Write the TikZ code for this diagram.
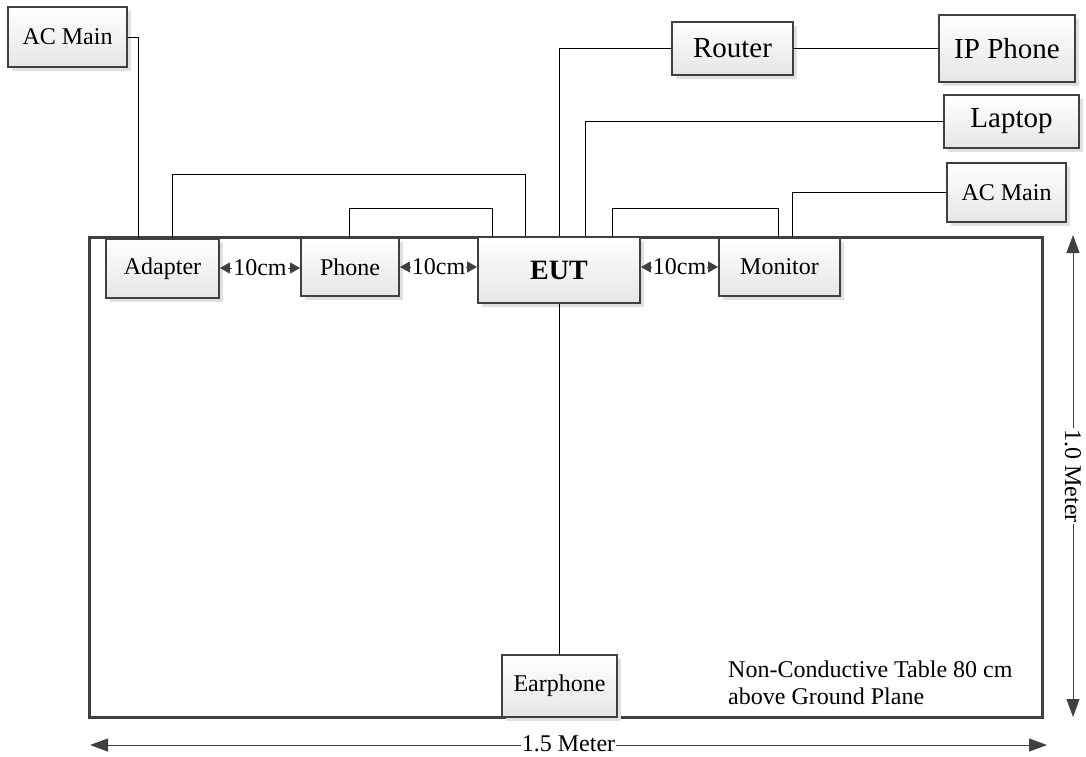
\documentclass[tikz,border=0pt]{standalone}
\usepackage{fontspec}
\setmainfont{Liberation Serif}
\usetikzlibrary{shadows,arrows.meta}
\definecolor{edge}{HTML}{404040}
\tikzset{
  dev/.style={draw=edge, line width=1.8pt, top color=white, bottom color=black!10,
    drop shadow={shadow xshift=4pt, shadow yshift=-4pt, fill=black!12, opacity=1},
    inner sep=0pt, font=\fontsize{24}{26}\selectfont},
  bigdev/.style={dev, font=\fontsize{29}{32}\selectfont},
  wire/.style={draw=black, line width=0.9pt},
  gap/.style={draw=edge, line width=0.9pt, {Triangle[length=10pt,width=11pt]}-{Triangle[length=10pt,width=11pt]}},
  dim/.style={draw=edge, line width=1pt, {Triangle[length=18pt,width=13pt]}-{Triangle[length=18pt,width=13pt]}},
  lbl/.style={fill=white, inner sep=1pt, font=\fontsize{24}{26}\selectfont}
}
\begin{document}
\begin{tikzpicture}[x=1pt,y=1pt]
\useasboundingbox (0,0) rectangle (1086,-756);
% table
\draw[draw=edge, line width=3pt] (89,-237) rectangle (1042,-717);
% devices
\node[dev, minimum width=119, minimum height=60] (acL) at (67.5,-37) {AC Main};
\node[dev, minimum width=113, minimum height=59] (adapter) at (162.5,-268.5) {Adapter};
\node[dev, minimum width=98, minimum height=58] (phone) at (350,-267) {Phone};
\node[dev, minimum width=162, minimum height=66, font=\fontsize{28}{30}\selectfont\bfseries] (eut) at (559,-270) {EUT};
\node[dev, minimum width=121, minimum height=58] (monitor) at (779.5,-267) {Monitor};
\node[bigdev, minimum width=121, minimum height=53] (router) at (732.5,-48.5) {Router};
\node[bigdev, minimum width=136, minimum height=67] (ipphone) at (1007,-48.5) {IP Phone};
\node[bigdev, minimum width=135, minimum height=53] (laptop) at (1011.5,-121.5) {Laptop};
\node[dev, minimum width=119, minimum height=59] (acR) at (1006.5,-192.5) {AC Main};
\node[dev, minimum width=115, minimum height=62] (earphone) at (559.5,-686) {Earphone};
% wires
\draw[wire] (acL.east) -| ([xshift=33]adapter.north west);
\draw[wire] ([xshift=67]adapter.north west) -- ++(0,64) -| ([xshift=48]eut.north west);
\draw[wire] ([xshift=-1]phone.north) -- ++(0,29) -| ([xshift=15]eut.north west);
\draw[wire] (router.west) -| (eut.north);
\draw[wire] (router.east) -- (ipphone.west);
\draw[wire] (laptop.west) -| ([xshift=26]eut.north);
\draw[wire] ([xshift=-28]eut.north east) -- ++(0,28) -| ([xshift=-1.5]monitor.north);
\draw[wire] (acR.west) -| ([xshift=12.5]monitor.north);
\draw[wire] (eut.south) -- (eut.south |- earphone.north);
% 10 cm gaps
\draw[gap] ([yshift=0.5]adapter.east) -- ([yshift=0.5]adapter.east -| phone.west) node[midway, lbl, inner xsep=1pt] (g1) {10cm};
\draw[gap] (phone.east) -- (phone.east -| eut.west) node[midway, lbl, inner xsep=1pt] (g2) {10cm};
\draw[gap] ([yshift=3]eut.east) -- ([yshift=3]eut.east -| monitor.west) node[midway, lbl, inner xsep=1pt] (g3) {10cm};
% note
\node[anchor=west, align=left, inner sep=0pt, font=\fontsize{24}{27.5}\selectfont] (note) at (728,-683) {Non-Conductive Table 80 cm\\above Ground Plane};
% dimensions
\coordinate (hL) at (90,-745);
\coordinate (hR) at (1047,-745);
\draw[dim] (hL) -- (hR) node[midway, lbl, inner ysep=0pt, yshift=1.5pt] (wlbl) {1.5 Meter};
\coordinate (vT) at (1073,-235);
\coordinate (vB) at (1073,-717);
\draw[dim] (vT) -- (vB) node[midway, lbl, rotate=-90] (hlbl) {1.0 Meter};
\end{tikzpicture}
\end{document}
